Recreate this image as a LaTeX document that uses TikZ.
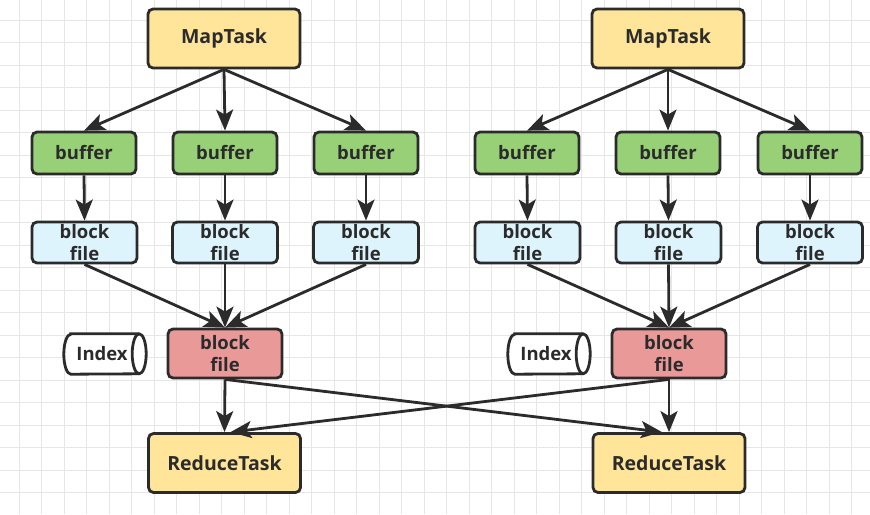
\documentclass[tikz,border=0pt]{standalone}
\usepackage{fontspec}
\setmainfont{Open Sans}
\usetikzlibrary{arrows.meta,calc}
\definecolor{edge}{HTML}{2B2B2B}
\definecolor{yel}{HTML}{FFE599}
\definecolor{grn}{HTML}{97D077}
\definecolor{blu}{HTML}{DDF4FC}
\definecolor{red}{HTML}{EA9999}
\definecolor{gridc}{HTML}{E6E6E6}
\begin{document}
\begin{tikzpicture}[x=1pt,y=-1pt,
  box/.style={draw=edge, line width=2.8pt, rounded corners=5pt, align=center, inner sep=0pt,
     font=\bfseries\fontsize{18.5}{22}\selectfont, text=edge},
  task/.style={box, fill=yel, minimum width=152pt, minimum height=59pt, font=\bfseries\fontsize{19.5}{22}\selectfont},
  buf/.style={box, fill=grn, minimum width=104pt, minimum height=42pt},
  blk/.style={box, fill=blu, minimum width=105pt, minimum height=41pt},
  mrg/.style={box, fill=red, minimum width=114pt, minimum height=49pt},
  idx/.style={minimum width=82pt, minimum height=40pt, inner sep=0pt, text=edge,
     font=\bfseries\fontsize{18.5}{22}\selectfont},
  arr/.style={draw=edge, line width=2.8pt, -{Stealth[length=21pt,width=17pt,inset=5pt]}},
  cyl/.style={draw=edge, line width=2.8pt, fill=white}
]
\useasboundingbox (0,0) rectangle (870,514);
\fill[white] (0,0) rectangle (870,514);
% grid
\foreach \i in {0,...,38} {\draw[gridc, line width=1pt] ({19.2+22.5*\i},0) -- ({19.2+22.5*\i},514);}
\foreach \j in {0,...,22} {\draw[gridc, line width=1pt] (0,{20+22.5*\j}) -- (870,{20+22.5*\j});}

% left group
\node[task] (mapL) at (224,38.5) {MapTask};
\node[buf] (bL1) at (84,153) {buffer};
\node[buf] (bL2) at (225,153) {buffer};
\node[buf] (bL3) at (366,153) {buffer};
\node[blk] (fL1) at (84.5,242.5) {block\\file};
\node[blk] (fL2) at (225,242.5) {block\\file};
\node[blk] (fL3) at (366,242.5) {block\\file};
\node[mrg] (mL) at (225,353.5) {block\\file};
\node[idx] (iL) at (105,354) {};
\node[task] (rL) at (224.5,463) {ReduceTask};

% right group
\node[task] (mapR) at (668,38.5) {MapTask};
\node[buf] (bR1) at (527,153) {buffer};
\node[buf] (bR2) at (668,153) {buffer};
\node[buf] (bR3) at (810,153) {buffer};
\node[blk] (fR1) at (527.5,242.5) {block\\file};
\node[blk] (fR2) at (668.5,242.5) {block\\file};
\node[blk] (fR3) at (810,242.5) {block\\file};
\node[mrg] (mR) at (669,353.5) {block\\file};
\node[idx] (iR) at (549,354) {};
\node[task] (rR) at (669,463) {ReduceTask};

% cylinders
\foreach \n in {iL,iR} {
  \draw[cyl] ($(\n.north west)+(7,0)$) -- ($(\n.north east)+(-7,0)$)
     arc[start angle=90, end angle=-90, x radius=7pt, y radius=20pt]
     -- ($(\n.south west)+(7,0)$)
     arc[start angle=270, end angle=90, x radius=7pt, y radius=20pt] -- cycle;
  \draw[cyl, fill=none] ($(\n.north east)+(-7,0)$) arc[start angle=90, end angle=270, x radius=7pt, y radius=20pt];
  \node[idx] at ($(\n.center)+(-3,0)$) {Index};
}

% edges
\foreach \g in {L,R} {
  \foreach \k in {1,2,3} {
    \draw[arr] (map\g.south) -- (b\g\k.north);
    \draw[arr] (b\g\k.south) -- (f\g\k.north);
    \draw[arr] (f\g\k.south) -- (m\g.north);
  }
  \draw[arr] (m\g.south) -- (r\g.north);
}
\draw[arr] (mL.south) -- ($(rR.north)+(-7,0)$);
\draw[arr] (mR.south) -- ($(rL.north)+(6,0)$);
\end{tikzpicture}
\end{document}
